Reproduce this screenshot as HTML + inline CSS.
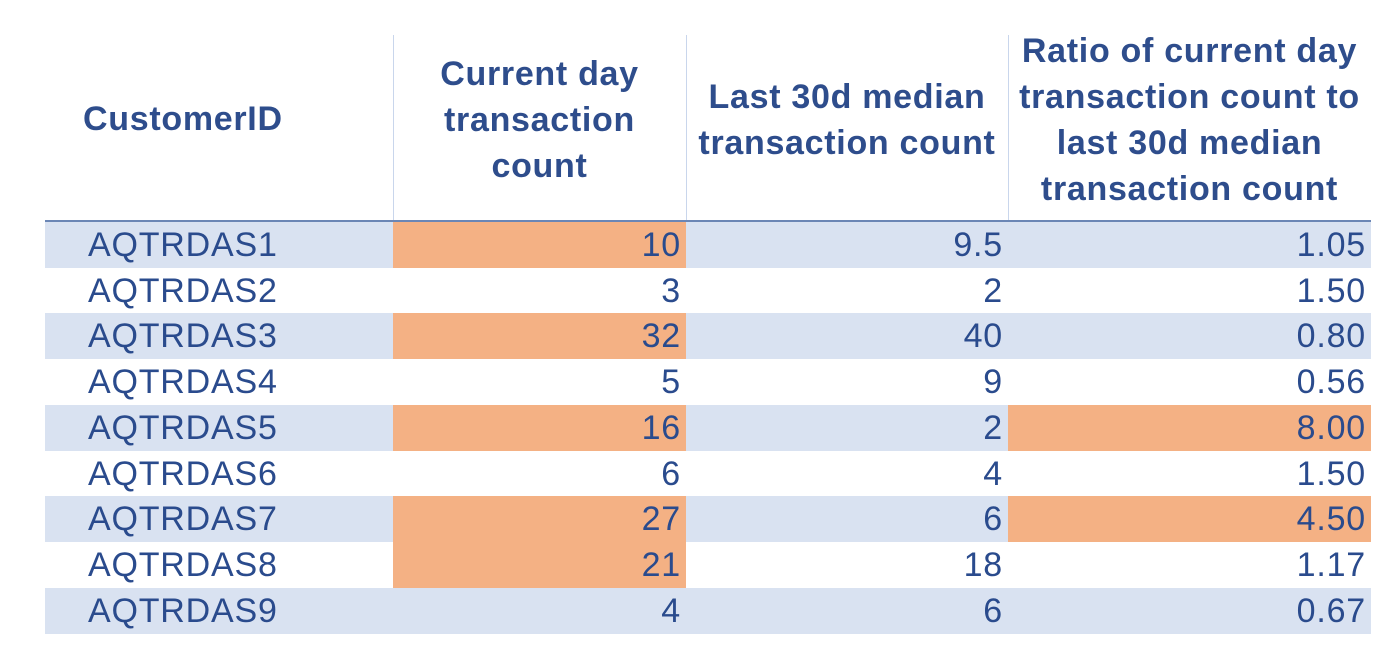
<!DOCTYPE html>
<html><head><meta charset="utf-8"><style>
body{margin:0;width:1400px;height:663px;background:#fff;font-family:"Liberation Sans",Arial,sans-serif;position:relative;overflow:hidden}
.h{position:absolute;color:#2e4d8c;font-weight:bold;font-size:34px;letter-spacing:0.7px;line-height:46px;text-align:center}
.vl{position:absolute;width:1px;background:#c9d6ec}
.row{position:absolute;left:45px;width:1326px;height:46px}
.c{position:absolute;top:0;height:100%;font-size:34px;letter-spacing:0.8px;line-height:46px;color:#2a4b8d;box-sizing:border-box;white-space:nowrap}
</style></head><body>
<div class="h" style="left:83px;top:96px;text-align:left">CustomerID</div>
<div class="h" style="left:393px;width:293px;top:51px">Current day<br>transaction<br>count</div>
<div class="h" style="left:680px;width:334px;top:74px;white-space:nowrap">Last 30d median<br>transaction count</div>
<div class="h" style="left:1008px;width:363px;top:28px;white-space:nowrap">Ratio of current day<br>transaction count to<br>last 30d median<br>transaction count</div>
<div class="vl" style="left:393px;top:35px;height:598px"></div>
<div class="vl" style="left:686px;top:35px;height:598px"></div>
<div class="vl" style="left:1008px;top:35px;height:598px"></div>
<div id="rows"></div>
<div style="position:absolute;left:45px;top:220px;width:1326px;height:2px;background:#6b86b5"></div>
<script>
const ids=["AQTRDAS1","AQTRDAS2","AQTRDAS3","AQTRDAS4","AQTRDAS5","AQTRDAS6","AQTRDAS7","AQTRDAS8","AQTRDAS9"];
const current=["10","3","32","5","16","6","27","21","4"];
const median=["9.5","2","40","9","2","4","6","18","6"];
const ratio=["1.05","1.50","0.80","0.56","8.00","1.50","4.50","1.17","0.67"];
const hlCurrent=[1,0,1,0,1,0,1,1,0];
const hlRatio=[0,0,0,0,1,0,1,0,0];
const box=document.getElementById('rows');
ids.forEach((id,i)=>{
  const r=document.createElement('div');
  r.className='row';
  
  
  r.style.top=(222+i*45.7)+'px';
  r.style.background=i%2===0?'#d9e2f1':'#fff';
  const mk=(txt,l,w,al,bg)=>{const c=document.createElement('div');c.className='c';c.textContent=txt;c.style.left=l+'px';c.style.width=w+'px';c.style.textAlign=al;if(al==='right')c.style.paddingRight='5px';else c.style.paddingLeft='43px';if(bg)c.style.background='#f4b184';return c;};
  let c1=mk(id,0,348,'left',false);
  
  
  let c2=mk(current[i],348,293,'right',hlCurrent[i]);
  
  
  let c3=mk(median[i],641,322,'right',false);
  
  
  let c4=mk(ratio[i],963,363,'right',hlRatio[i]);
  
  
  r.append(c1,c2,c3,c4);box.appendChild(r);
});
</script>
</body></html>
